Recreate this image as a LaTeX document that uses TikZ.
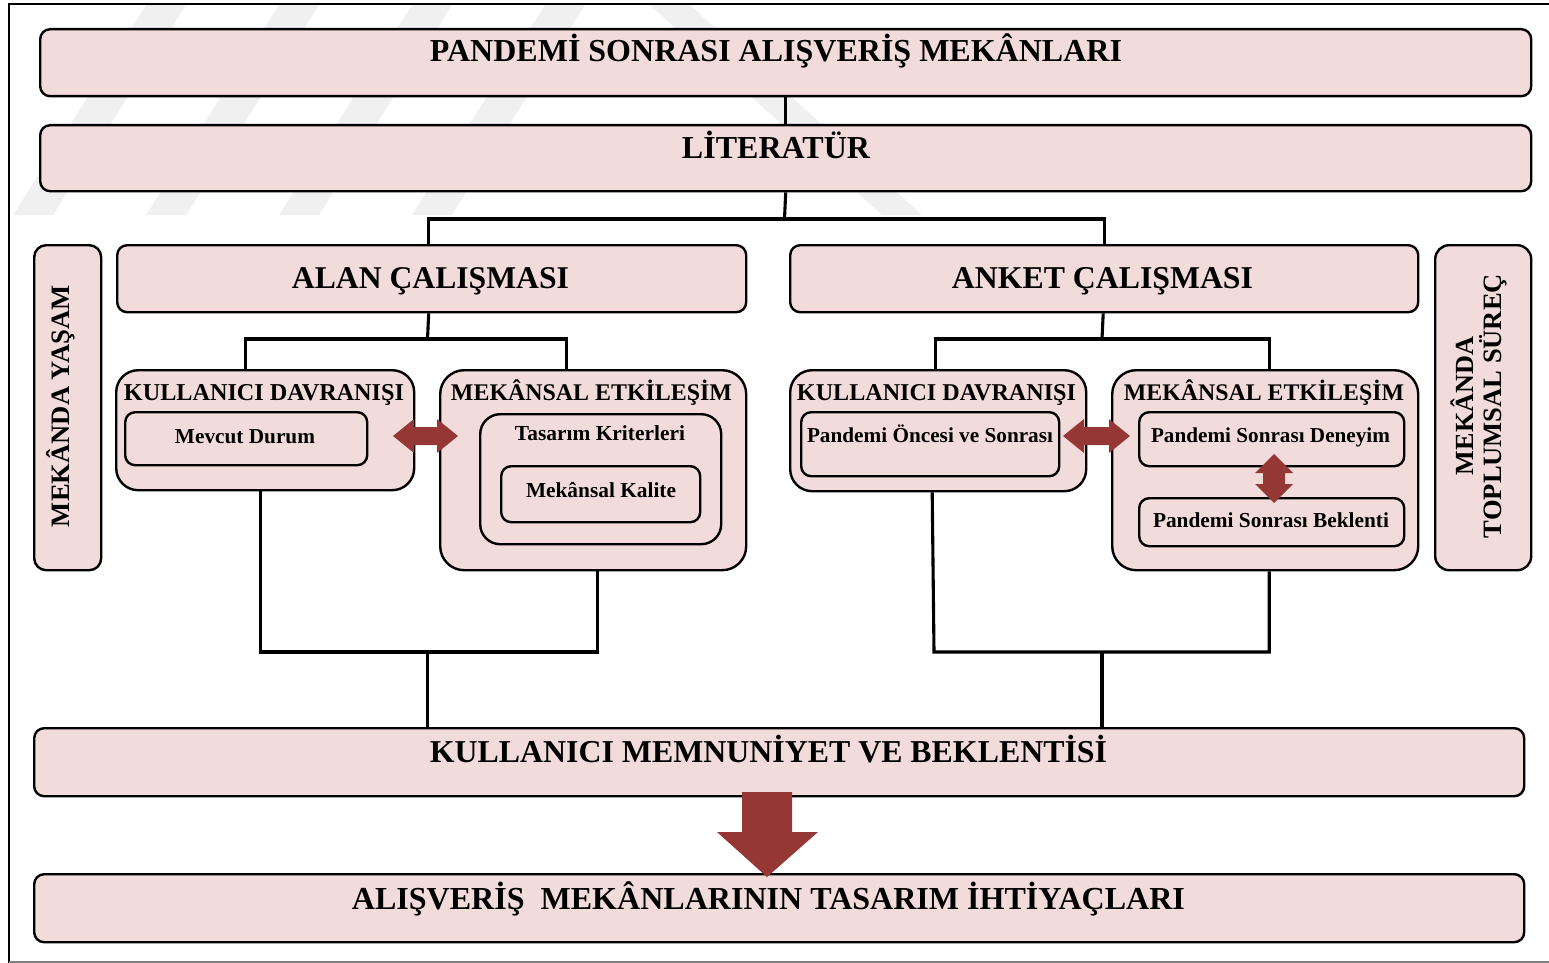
\documentclass[tikz,border=0pt]{standalone}
\usepackage{fontspec}
\setmainfont{Liberation Serif}
\usepackage{graphicx}
\definecolor{boxfill}{HTML}{F2DCDB}
\definecolor{arrowred}{HTML}{953735}
\definecolor{markgray}{HTML}{F0F0F0}
% bold text stretched to a given width (in pt)
\newcommand\fitw[2]{\resizebox{#1pt}{!}{\bfseries #2}}

\begin{document}
\begin{tikzpicture}[x=1pt,y=-1pt,
  panel/.style={draw=black, line width=2.4pt, fill=boxfill,
    rounded corners=#1, inner sep=0pt, anchor=north west},
  panel/.default=10pt,
  label/.style={inner sep=0pt, anchor=base},
  link/.style={line width=3.1pt},
  bolt/.style={fill=arrowred}]

\useasboundingbox (0,0) rectangle (1549,963);

% faint background mark
\begin{scope}[markgray]
  \foreach \i in {0,1,2,3}{
    \fill ({13+133*\i},215) -- ({53+133*\i},215) -- ({186+133*\i},5) -- ({146+133*\i},5) -- cycle;
  }
  \fill (650,5) -- (690,5) -- (922,215) -- (882,215) -- cycle;
\end{scope}

% page frame
\draw[line width=2pt] (8,4) -- (1549,4);
\draw[line width=2pt] (9,4) -- (9,963);
\draw[gray, line width=1.5pt] (9,962) -- (1549,962);

% boxes
\node[panel, minimum width=1491pt, minimum height=67pt] (top) at (39,28) {};
\node[panel, minimum width=1491pt, minimum height=66pt] (lit) at (39,124) {};
\node[panel, minimum width=629pt, minimum height=67pt] (alan) at (116,244) {};
\node[panel, minimum width=628pt, minimum height=67pt] (anket) at (789,244) {};
\node[panel=12pt, minimum width=67pt, minimum height=325pt] (yasam) at (33,244) {};
\node[panel=14pt, minimum width=96pt, minimum height=325pt] (surec) at (1434,244) {};

\node[panel=22pt, minimum width=298pt, minimum height=120pt] (kdL) at (115,369) {};
\node[panel=24pt, minimum width=306pt, minimum height=200pt] (meL) at (439,369) {};
\node[panel=10pt, minimum width=242pt, minimum height=53pt] (mevcut) at (124,411) {};
\node[panel=20pt, minimum width=241pt, minimum height=130pt] (tasarim) at (479,413) {};
\node[panel=10pt, minimum width=199pt, minimum height=56pt] (kalite) at (500,465) {};

\node[panel=22pt, minimum width=296pt, minimum height=121pt] (kdR) at (789,369) {};
\node[panel=24pt, minimum width=306pt, minimum height=200pt] (meR) at (1111,369) {};
\node[panel=10pt, minimum width=258pt, minimum height=64pt] (oncesi) at (800,411) {};
\node[panel=10pt, minimum width=265pt, minimum height=54pt] (deneyim) at (1138,411) {};
\node[panel=10pt, minimum width=265pt, minimum height=48pt] (beklenti) at (1138,497) {};

\node[panel, minimum width=1490pt, minimum height=68pt] (memnun) at (33,727) {};
\node[panel, minimum width=1490pt, minimum height=68pt] (ihtiyac) at (33,873) {};

% texts
\node[label] (tTop) at (776,62) {\fitw{692}{PANDEMİ SONRASI ALIŞVERİŞ MEKÂNLARI}};
\node[label] (tLit) at (776,158) {\fitw{188}{LİTERATÜR}};
\node[label] (tAlan) at (430.5,288) {\fitw{277}{ALAN ÇALIŞMASI}};
\node[label] (tAnket) at (1102.5,288) {\fitw{301}{ANKET ÇALIŞMASI}};
\node[label, rotate=90] (tYasam) at (69,406) {\fitw{242}{MEKÂNDA YAŞAM}};
\node[label, rotate=90] (tSurec1) at (1473,406) {\fitw{138}{MEKÂNDA}};
\node[label, rotate=90] (tSurec2) at (1501,406) {\fitw{264}{TOPLUMSAL SÜREÇ}};

\node[label] (tKdL) at (264,400) {\fitw{280}{KULLANICI DAVRANIŞI}};
\node[label] (tMeL) at (591.5,400) {\fitw{281}{MEKÂNSAL ETKİLEŞİM}};
\node[label] (tMevcut) at (245,443) {\fitw{140}{Mevcut Durum}};
\node[label] (tTasarim) at (600,440) {\fitw{170}{Tasarım Kriterleri}};
\node[label] (tKalite) at (601,497) {\fitw{150}{Mekânsal Kalite}};

\node[label] (tKdR) at (936.5,400) {\fitw{279}{KULLANICI DAVRANIŞI}};
\node[label] (tMeR) at (1264,400) {\fitw{280}{MEKÂNSAL ETKİLEŞİM}};
\node[label] (tOncesi) at (930,442) {\fitw{246}{Pandemi Öncesi ve Sonrası}};
\node[label] (tDeneyim) at (1270.5,442) {\fitw{239}{Pandemi Sonrası Deneyim}};
\node[label] (tBeklenti) at (1271,527) {\fitw{236}{Pandemi Sonrası Beklenti}};

\node[label] (tMemnun) at (768.5,762) {\fitw{677}{KULLANICI MEMNUNİYET VE BEKLENTİSİ}};
\node[label] (tIhtiyac) at (768.5,909) {\fitw{833}{ALIŞVERİŞ~~MEKÂNLARININ TASARIM İHTİYAÇLARI}};

% tree connectors
\coordinate (split) at (784.5,219);
\draw[link] (top.south) -- (lit.north);
\draw[link] (lit.south) -- (split);
\draw[link] ([xshift=-3pt]alan.north) |- (split) -| (anket.north);

\coordinate (splitL) at (427.5,339);
\draw[link] ([xshift=-3pt]alan.south) -- (splitL);
\draw[link] ([xshift=-20pt]kdL.north) |- (splitL) -| ([xshift=-27pt]meL.north);

\coordinate (splitR) at (1102,339);
\draw[link] ([xshift=-1pt]anket.south) -- (splitR);
\draw[link] ([xshift=-3pt]kdR.north) |- (splitR) -| ([xshift=4pt]meR.north);

\coordinate (jL) at (427.5,652);
\draw[link] ([xshift=-5pt]kdL.south) |- (jL) -| ([xshift=4pt]meL.south);
\draw[link] (jL) -- (jL |- memnun.north);

\coordinate (jR) at (1102,652);
\coordinate (jRl) at (934,652);
\draw[link] ([xshift=-6pt]kdR.south) -- (jRl) -- (jR) -| ([xshift=4pt]meR.south);
\draw[link] (jR) -- (jR |- memnun.north);

% two-headed arrows between the groups
\fill[bolt] (393,436) -- (414,419) -- (414,427) -- (437,427) -- (437,419) -- (458,436)
  -- (437,453) -- (437,445) -- (414,445) -- (414,453) -- cycle;
\fill[bolt] (1063,436) -- (1084,419) -- (1084,427) -- (1109,427) -- (1109,419) -- (1130,436)
  -- (1109,453) -- (1109,445) -- (1084,445) -- (1084,453) -- cycle;
\fill[bolt] (1274,454) -- (1293,473) -- (1285,473) -- (1285,484) -- (1293,484) -- (1274,503)
  -- (1255,484) -- (1263,484) -- (1263,473) -- (1255,473) -- cycle;

% downward arrow to the final box
\fill[bolt] (742,792) -- (792,792) -- (792,832) -- (818,832) -- (767,877) -- (717,832) -- (742,832) -- cycle;

\end{tikzpicture}
\end{document}
